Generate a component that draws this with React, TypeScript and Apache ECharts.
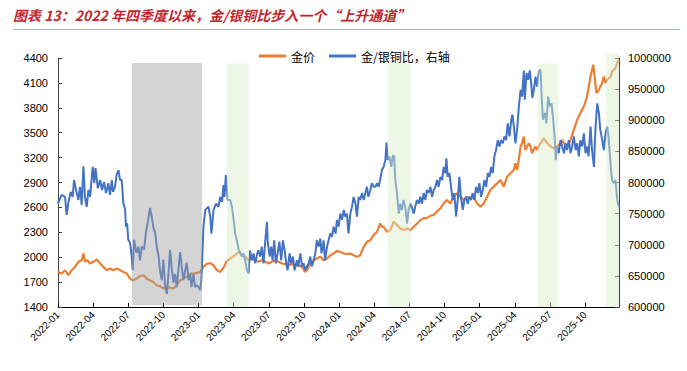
import React, { useEffect, useRef } from "react";
import * as echarts from "echarts";

// x values are months since 2022-01 (fractional)
const tickLabels = [
  "2022-01", "2022-04", "2022-07", "2022-10",
  "2023-01", "2023-04", "2023-07", "2023-10",
  "2024-01", "2024-04", "2024-07", "2024-10",
  "2025-01", "2025-04", "2025-07", "2025-10",
];

const goldMonths = [
  0, 0.3, 0.6, 0.88, 1.17, 1.45, 1.74, 2.02, 2.17, 2.3, 2.5, 2.73, 3.0, 3.3, 3.6, 3.87, 4.16, 4.44, 4.73, 5.0,
  5.3, 5.58, 5.87, 6.15, 6.38, 6.72, 7.0, 7.3, 7.58, 7.86, 8.15, 8.43, 8.7, 9.0, 9.3, 9.57, 9.86, 10.14, 10.43, 10.7,
  11.0, 11.28, 11.57, 11.85, 12.14, 12.42, 12.7, 13.0, 13.28, 13.56, 13.85, 14.13, 14.42, 14.7, 15.0, 15.27, 15.5, 15.7, 16.0, 16.27,
  16.55, 16.84, 17.1, 17.4, 17.7, 17.98, 18.26, 18.55, 18.83, 19.12, 19.4, 19.7, 19.97, 20.26, 20.54, 20.83, 21.1, 21.26, 21.54, 21.83,
  22.1, 22.4, 22.68, 22.97, 23.25, 23.53, 23.82, 24.1, 24.4, 24.67, 24.96, 25.24, 25.53, 25.8, 26.1, 26.38, 26.67, 26.95, 27.24, 27.52,
  27.67, 27.8, 28.1, 28.38, 28.66, 28.95, 29.23, 29.5, 29.8, 30.1, 30.37, 30.66, 30.94, 31.2, 31.5, 31.8, 32.08, 32.36, 32.65, 32.93,
  33.2, 33.5, 33.79, 34.07, 34.36, 34.64, 34.93, 35.2, 35.5, 35.78, 36.07, 36.35, 36.64, 36.92, 37.2, 37.5, 37.78, 38.06, 38.35, 38.63,
  38.92, 39.06, 39.2, 39.34, 39.5, 39.63, 39.77, 39.9, 40.05, 40.2, 40.34, 40.48, 40.6, 40.77, 40.9, 41.2, 41.48, 41.77, 42.05, 42.34,
  42.62, 42.9, 43.05, 43.19, 43.47, 43.76, 44.04, 44.33, 44.6, 44.9, 45.18, 45.47, 45.7, 45.84, 45.98, 46.18, 46.32, 46.47, 46.6, 46.75,
  46.9, 47.2, 47.3, 47.46, 47.6, 47.75, 47.89,
];
const goldValues = [
  1823, 1803, 1843, 1783, 1843, 1883, 1944, 1964, 2044, 1944, 1964, 1924, 1944, 1972, 1924, 1883, 1843, 1863, 1843, 1863,
  1843, 1823, 1803, 1742, 1722, 1742, 1771, 1783, 1742, 1722, 1702, 1662, 1650, 1622, 1642, 1634, 1622, 1662, 1722, 1742,
  1763, 1803, 1803, 1811, 1823, 1883, 1920, 1928, 1900, 1843, 1823, 1873, 1954, 1984, 2014, 2044, 2064, 2024, 2004, 1964,
  1984, 1964, 1944, 1964, 1944, 1924, 1944, 1964, 1944, 1924, 1916, 1904, 1916, 1904, 1904, 1883, 1823, 1843, 1924, 1964,
  1984, 2004, 1964, 1984, 2024, 2044, 2077, 2064, 2044, 2036, 2044, 2024, 2004, 2024, 2125, 2185, 2205, 2266, 2306, 2407,
  2366, 2366, 2306, 2326, 2427, 2387, 2346, 2326, 2346, 2326, 2366, 2407, 2447, 2470, 2470, 2500, 2510, 2550, 2588, 2648,
  2689, 2648, 2729, 2769, 2729, 2689, 2729, 2709, 2729, 2648, 2608, 2648, 2729, 2809, 2850, 2890, 2930, 2850, 2970, 3011,
  3051, 3131, 3051, 3172, 3333, 3373, 3454, 3292, 3333, 3373, 3333, 3252, 3292, 3333, 3292, 3373, 3433, 3373, 3333, 3312,
  3333, 3373, 3413, 3373, 3333, 3413, 3534, 3655, 3736, 3816, 3937, 4178, 4319, 4138, 3977, 4017, 4057, 4098, 4178, 4098,
  4138, 4178, 4239, 4259, 4279, 4339, 4379,
];

const ratioMonths = [
  0, 0.31, 0.6, 0.74, 0.88, 1.08, 1.25, 1.37, 1.54, 1.74, 1.88, 2.02, 2.17, 2.3, 2.45, 2.6, 2.74, 2.96, 3.1, 3.2,
  3.4, 3.6, 3.76, 3.93, 4.1, 4.3, 4.44, 4.6, 4.7, 4.87, 5.0, 5.16, 5.3, 5.44, 5.58, 5.73, 5.8, 5.9, 6.0, 6.15,
  6.3, 6.38, 6.5, 6.7, 6.87, 7.0, 7.15, 7.35, 7.5, 7.7, 7.86, 8.0, 8.15, 8.3, 8.43, 8.6, 8.7, 8.86, 9.0, 9.15,
  9.3, 9.43, 9.57, 9.7, 9.86, 10.0, 10.14, 10.3, 10.43, 10.57, 10.7, 10.86, 11.0, 11.14, 11.3, 11.4, 11.57, 11.7, 11.85, 12.0,
  12.14, 12.25, 12.42, 12.57, 12.85, 13.0, 13.1, 13.28, 13.5, 13.7, 13.85, 14.0, 14.13, 14.22, 14.33, 14.48, 14.7, 14.85, 15.0, 15.13,
  15.27, 15.4, 15.56, 15.7, 15.84, 15.98, 16.13, 16.27, 16.4, 16.55, 16.7, 16.84, 16.98, 17.1, 17.27, 17.4, 17.55, 17.7, 17.84, 17.9,
  18.07, 18.2, 18.32, 18.46, 18.6, 18.75, 18.9, 19.06, 19.2, 19.35, 19.49, 19.6, 19.77, 19.9, 20.06, 20.2, 20.4, 20.5, 20.7, 20.83,
  20.97, 21.1, 21.26, 21.4, 21.54, 21.68, 21.83, 21.97, 22.1, 22.25, 22.4, 22.5, 22.68, 22.8, 22.97, 23.1, 23.25, 23.4, 23.53, 23.7,
  23.82, 23.96, 24.1, 24.25, 24.4, 24.53, 24.67, 24.8, 24.96, 25.1, 25.24, 25.4, 25.53, 25.67, 25.8, 25.96, 26.1, 26.24, 26.38, 26.5,
  26.67, 26.8, 26.95, 27.1, 27.24, 27.38, 27.5, 27.66, 27.8, 27.95, 28.05, 28.15, 28.3, 28.46, 28.6, 28.7, 28.8, 28.94, 29.1, 29.23,
  29.37, 29.5, 29.66, 29.8, 29.94, 30.08, 30.2, 30.37, 30.5, 30.65, 30.8, 30.94, 31.08, 31.22, 31.37, 31.5, 31.65, 31.8, 31.94, 32.08,
  32.22, 32.36, 32.5, 32.65, 32.8, 32.93, 33.08, 33.16, 33.27, 33.42, 33.56, 33.7, 33.84, 33.99, 34.13, 34.27, 34.4, 34.56, 34.7, 34.84,
  34.98, 35.13, 35.27, 35.4, 35.55, 35.7, 35.84, 35.98, 36.12, 36.27, 36.41, 36.55, 36.7, 36.84, 36.98, 37.12, 37.26, 37.4, 37.55, 37.7,
  37.83, 37.98, 38.12, 38.26, 38.4, 38.55, 38.7, 38.8, 38.92, 39.06, 39.2, 39.35, 39.5, 39.63, 39.77, 39.86, 40.0, 40.14, 40.28, 40.4,
  40.5, 40.63, 40.77, 40.9, 41.05, 41.2, 41.3, 41.4, 41.57, 41.7, 41.85, 42.0, 42.14, 42.28, 42.4, 42.5, 42.6, 42.76, 42.9, 43.05,
  43.2, 43.33, 43.47, 43.62, 43.76, 43.9, 44.04, 44.2, 44.33, 44.47, 44.6, 44.76, 44.9, 45.04, 45.18, 45.3, 45.47, 45.6, 45.76, 45.9,
  46.04, 46.18, 46.3, 46.47, 46.6, 46.75, 46.9, 47.0, 47.2, 47.3, 47.46, 47.6, 47.75, 47.89,
];
// in thousands
const ratioValuesK = [
  766, 780, 777, 748, 767, 785, 777, 804, 788, 772, 793, 764, 826, 777, 761, 788, 777, 825, 799, 823,
  791, 804, 788, 801, 783, 799, 780, 804, 785, 793, 812, 820, 804, 804, 767, 756, 729, 735, 708, 703,
  680, 659, 708, 687, 697, 675, 697, 692, 719, 740, 759, 745, 727, 719, 697, 680, 659, 643, 676, 632,
  621, 653, 692, 664, 639, 653, 632, 664, 688, 664, 643, 659, 671, 643, 653, 632, 653, 632, 635, 632,
  627, 647, 729, 756, 761, 745, 718, 756, 766, 761, 777, 769, 796, 777, 812, 772, 772, 761, 740, 718,
  707, 694, 686, 681, 686, 675, 659, 654, 691, 675, 686, 670, 683, 691, 681, 697, 670, 707, 737, 707,
  681, 697, 675, 707, 670, 686, 705, 675, 707, 691, 670, 659, 686, 670, 681, 659, 675, 665, 686, 665,
  670, 659, 665, 670, 681, 665, 675, 686, 707, 697, 710, 686, 707, 675, 697, 707, 718, 713, 729, 718,
  740, 729, 750, 740, 756, 745, 750, 718, 750, 761, 777, 766, 745, 777, 772, 783, 772, 783, 793, 777,
  788, 799, 793, 793, 799, 793, 804, 820, 825, 836, 864, 836, 842, 825, 844, 842, 804, 783, 750, 766,
  756, 772, 761, 734, 756, 766, 761, 750, 761, 772, 766, 777, 766, 783, 772, 788, 783, 793, 777, 788,
  793, 804, 793, 809, 804, 825, 815, 839, 809, 815, 793, 772, 783, 745, 772, 809, 777, 756, 772, 777,
  766, 777, 772, 783, 772, 793, 783, 799, 777, 788, 804, 793, 815, 809, 825, 815, 842, 852, 868, 858,
  868, 863, 874, 868, 895, 874, 901, 909, 890, 863, 885, 922, 949, 938, 980, 933, 976, 965, 980, 960,
  936, 949, 970, 954, 979, 981, 938, 901, 912, 895, 938, 922, 927, 901, 874, 836, 858, 847, 868, 858,
  847, 863, 852, 868, 847, 858, 874, 852, 863, 842, 868, 858, 879, 847, 858, 842, 890, 852, 825, 890,
  927, 912, 885, 868, 852, 879, 890, 874, 825, 804, 799, 804, 772, 761,
];

// shaded periods (months since 2022-01) and vertical extent on the left axis
const shadeStart = [6.32, 14.4, 28.15, 40.94, 46.8];
const shadeEnd = [12.3, 16.3, 30.1, 42.7, 47.9];
const shadeTop = [4340, 4335, 4335, 4335, 4452];
const shadeBottom = [1420, 1400, 1400, 1400, 1400];
const shadeKind = [0, 1, 1, 1, 1]; // 0 gray, 1 green

const FONT = '"Liberation Sans", Arial, sans-serif';
const CJK = '"Noto Sans CJK SC", sans-serif';

export default function App() {
  const ref = useRef<HTMLDivElement>(null);

  useEffect(() => {
    if (!ref.current) return;
    const chart = echarts.init(ref.current, undefined, { renderer: "svg" });

    const goldData = goldMonths.map((m, i) => [m, goldValues[i]]);
    const ratioData = ratioMonths.map((m, i) => [m, ratioValuesK[i] * 1000]);
    const shadeData = shadeStart.map((s, i) => [s, shadeEnd[i], shadeTop[i], shadeBottom[i], shadeKind[i]]);

    const option: any = {
      animation: false,
      backgroundColor: "#ffffff",
      grid: { left: 58, right: 68, top: 58, bottom: 64, containLabel: false, outerBoundsMode: "none" },
      legend: {
        data: ["金价", "金/银铜比，右轴"],
        left: 254,
        top: 45,
        itemWidth: 27,
        itemHeight: 3,
        itemGap: 14,
        icon: "rect",
        textStyle: { fontFamily: CJK, fontSize: 12, color: "#000" },
      },
      graphic: [
        {
          type: "text",
          left: 13,
          top: 8,
          style: {
            text: "图表 13：2022 年四季度以来，金/银铜比步入一个“上升通道”",
            font: 'italic bold 14px "Noto Sans CJK SC", sans-serif',
            fill: "#c0272d",
          },
        },
        {
          type: "line",
          shape: { x1: 13, y1: 29.5, x2: 680, y2: 29.5 },
          style: { stroke: "#a3b6ca", lineWidth: 1 },
        },
      ],
      xAxis: {
        type: "value",
        min: 0,
        max: 47.9,
        interval: 3,
        splitLine: { show: false },
        axisLine: { show: true, lineStyle: { color: "#000", width: 1 } },
        axisTick: { show: true, inside: true, length: 4, lineStyle: { color: "#000" } },
        axisLabel: {
          rotate: 45,
          margin: 6,
          fontSize: 10,
          fontFamily: FONT,
          color: "#000",
          showMaxLabel: false,
          formatter: (v: number) => {
            const idx = Math.round(v / 3);
            if (Math.abs(v - idx * 3) > 1e-6) return "";
            return tickLabels[idx] ?? "";
          },
        },
      },
      yAxis: [
        {
          type: "value",
          min: 1400,
          max: 4400,
          interval: 300,
          splitLine: { show: false },
          axisLine: { show: true, lineStyle: { color: "#404040" } },
          axisTick: { show: true, inside: true, length: 4, lineStyle: { color: "#404040" } },
          axisLabel: {
            fontSize: 11, fontFamily: FONT, color: "#000", margin: 10,
            formatter: (v: number) => String(Math.round(v)),
          },
        },
        {
          type: "value",
          min: 600000,
          max: 1000000,
          interval: 50000,
          position: "right",
          splitLine: { show: false },
          axisLine: { show: true, lineStyle: { color: "#404040" } },
          axisTick: { show: true, inside: true, length: 4, lineStyle: { color: "#404040" } },
          axisLabel: {
            fontSize: 11, fontFamily: FONT, color: "#000", margin: 9,
            formatter: (v: number) => String(Math.round(v)),
          },
        },
      ],
      series: [
        {
          name: "金价",
          type: "line",
          yAxisIndex: 0,
          data: goldData,
          symbol: "none",
          z: 2,
          lineStyle: { color: "#ed7d31", width: 2.2 },
          itemStyle: { color: "#ed7d31" },
        },
        {
          name: "金/银铜比，右轴",
          type: "line",
          yAxisIndex: 1,
          data: ratioData,
          symbol: "none",
          z: 2,
          lineStyle: { color: "#4472c4", width: 2 },
          itemStyle: { color: "#4472c4" },
        },
        {
          name: "shade",
          type: "custom",
          yAxisIndex: 0,
          z: 5,
          silent: true,
          clip: false,
          encode: { x: [0, 1], y: [2, 3] },
          data: shadeData,
          renderItem: (params: any, api: any) => {
            const p0 = api.coord([api.value(0), api.value(2)]);
            const p1 = api.coord([api.value(1), api.value(3)]);
            const kind = api.value(4);
            return {
              type: "rect",
              shape: { x: p0[0], y: p0[1], width: p1[0] - p0[0], height: p1[1] - p0[1] },
              style: { fill: kind === 0 ? "rgba(162,162,162,0.46)" : "rgba(218,238,201,0.47)" },
            };
          },
        },
      ],
    };

    chart.setOption(option);
    return () => chart.dispose();
  }, []);

  return (
    <div
      ref={ref}
      style={{ position: "fixed", left: 0, top: 0, width: 687, height: 371 }}
    />
  );
}
